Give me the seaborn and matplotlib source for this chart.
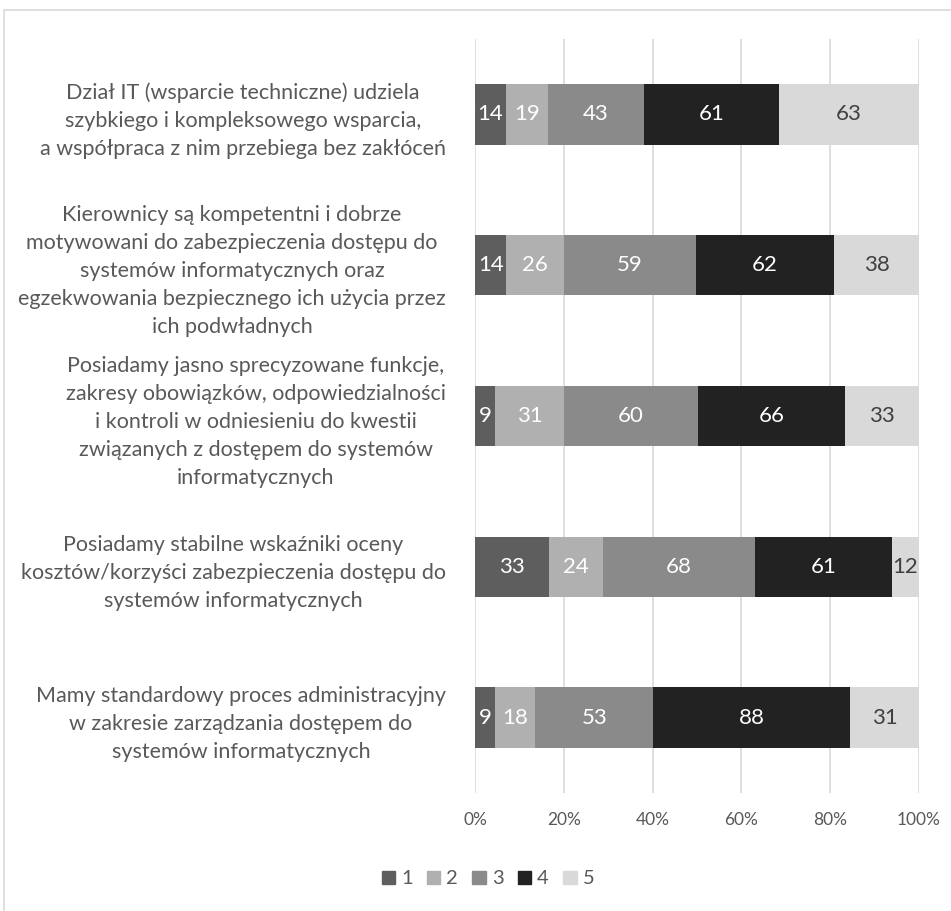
import matplotlib
matplotlib.use("Agg")
import matplotlib.pyplot as plt
import matplotlib.patches as mpatches
import seaborn as sns
import pandas as pd
import numpy as np

categories = [
    "Dział IT (wsparcie techniczne) udziela\nszybkiego i kompleksowego wsparcia,\na współpraca z nim przebiega bez zakłóceń",
    "Kierownicy są kompetentni i dobrze\nmotywowani do zabezpieczenia dostępu do\nsystemów informatycznych oraz\negzekwowania bezpiecznego ich użycia przez\nich podwładnych",
    "Posiadamy jasno sprecyzowane funkcje,\nzakresy obowiązków, odpowiedzialności\ni kontroli w odniesieniu do kwestii\nzwiązanych z dostępem do systemów\ninformatycznych",
    "Posiadamy stabilne wskaźniki oceny\nkosztów/korzyści zabezpieczenia dostępu do\nsystemów informatycznych",
    "Mamy standardowy proces administracyjny\nw zakresie zarządzania dostępem do\nsystemów informatycznych",
]
series_names = ["1", "2", "3", "4", "5"]
s1 = [14, 14, 9, 33, 9]
s2 = [19, 26, 31, 24, 18]
s3 = [43, 59, 60, 68, 53]
s4 = [61, 62, 66, 61, 88]
s5 = [63, 38, 33, 12, 31]
x_ticks = [0, 20, 40, 60, 80, 100]
x_tick_labels = ["0%", "20%", "40%", "60%", "80%", "100%"]

colors = ["#5e5e5e", "#b0b0b0", "#8a8a8a", "#222222", "#d9d9d9"]
label_colors = ["white", "white", "white", "white", "#404040"]
text_gray = "#595959"

sns.set_theme(style="white")
plt.rcParams["font.family"] = ["Lato", "DejaVu Sans"]

W, H = 951, 911
fig = plt.figure(figsize=(W / 100, H / 100), dpi=100)
ax = fig.add_axes([475 / W, 1 - 793 / H, (919 - 475) / W, (793 - 39) / H])

vals = np.array([s1, s2, s3, s4, s5], dtype=float)
totals = vals.sum(axis=0)
pct = vals / totals * 100
cum = np.cumsum(pct, axis=0)

# draw from the full stack down so each shorter layer overlays
for i in range(len(series_names) - 1, -1, -1):
    df = pd.DataFrame({"cat": categories, "val": cum[i]})
    sns.barplot(data=df, y="cat", x="val", orient="h", color=colors[i],
                saturation=1, width=0.4, ax=ax, linewidth=0)

# data labels
for i in range(len(series_names)):
    for j in range(len(categories)):
        center = cum[i, j] - pct[i, j] / 2
        ax.text(center, j, str(int(vals[i, j])), ha="center", va="center",
                color=label_colors[i], fontsize=16)

ax.set_xlim(0, 100)
ax.set_ylim(len(categories) - 0.5, -0.5)
ax.set_xticks(x_ticks)
ax.set_xticklabels(x_tick_labels, color=text_gray, fontsize=12.5)
ax.set_xlabel("")
ax.set_ylabel("")
ax.xaxis.grid(True, color="#d9d9d9", linewidth=1.2)
ax.set_axisbelow(True)
for sp in ax.spines.values():
    sp.set_visible(False)
ax.tick_params(axis="x", length=0, pad=14)
ax.tick_params(axis="y", length=0, pad=21)
for lab in ax.get_yticklabels():
    lab.set_ha("right")
    lab.set_multialignment("center")
    lab.set_color(text_gray)
    lab.set_fontsize(15.5)
    lab.set_linespacing(1.5)

handles = [mpatches.Patch(color=c, label=n) for c, n in zip(colors, series_names)]
fig.legend(handles=handles, loc="center", bbox_to_anchor=(488 / W, 1 - 879 / H),
           ncol=5, frameon=False, fontsize=14.5, handlelength=0.67, handleheight=0.67,
           handletextpad=0.3, columnspacing=0.7, labelcolor=text_gray)

# chart-area border
fig.patches.append(mpatches.Rectangle((4 / W, -0.1), 1.2, 1 - 10 / H + 0.1,
                                      transform=fig.transFigure, fill=False,
                                      edgecolor="#d9d9d9", linewidth=1.2))

fig.savefig("out.png", dpi=100)
